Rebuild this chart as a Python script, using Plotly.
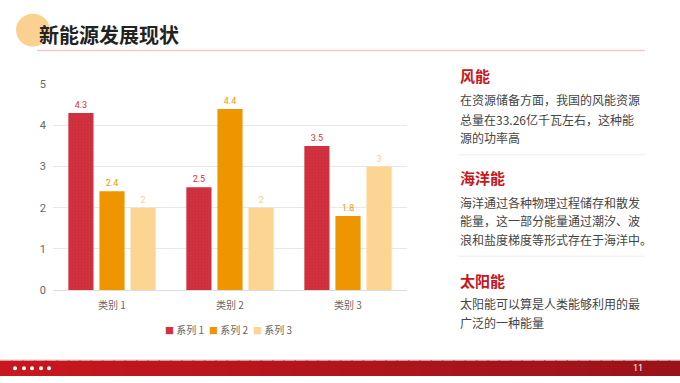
import plotly.graph_objects as go

W, H = 680, 383

categories = ["类别 1", "类别 2", "类别 3"]
series_names = ["系列 1", "系列 2", "系列 3"]
series1 = [4.3, 2.5, 3.5]
series2 = [2.4, 4.4, 1.8]
series3 = [2, 2, 3]
y_ticks = [0, 1, 2, 3, 4, 5]

colors = ["#d2323f", "#ee9500", "#fdd592"]
label_colors = ["#d2323f", "#ee9a00", "#f9cf80"]

title_text = "新能源发展现状"
sections = [
    ("风能", ["在资源储备方面，我国的风能资源", "总量在33.26亿千瓦左右，这种能", "源的功率高"]),
    ("海洋能", ["海洋通过各种物理过程储存和散发", "能量，这一部分能量通过潮汐、波", "浪和盐度梯度等形式存在于海洋中。"]),
    ("太阳能", ["太阳能可以算是人类能够利用的最", "广泛的一种能量"]),
]
page_number = "11"

FONT = "Noto Sans CJK SC"


def px(x):
    return x / W


def py(y):
    return 1 - y / H


fig = go.Figure()
for name, vals, c, lc in zip(series_names, [series1, series2, series3], colors, label_colors):
    marker = dict(color=c, line=dict(width=0))
    if name == series_names[0]:
        marker["pattern"] = dict(shape=".", size=3, solidity=0.25, fgcolor="#b92633", bgcolor=c)
    fig.add_trace(go.Bar(
        x=categories, y=vals, name=name, marker=marker,
        text=[f"{v:g}" for v in vals], textposition="outside",
        textfont=dict(color=lc, size=9, family="Roboto"),
        cliponaxis=False, hoverinfo="skip",
    ))

shapes = []
annotations = []

# title decoration
shapes.append(dict(type="circle", xref="paper", yref="paper",
                   x0=px(16), x1=px(50), y0=py(42), y1=py(8),
                   fillcolor="#fad190", line=dict(width=0), layer="below"))
shapes.append(dict(type="line", xref="paper", yref="paper",
                   x0=px(37), x1=px(645), y0=py(46), y1=py(46),
                   line=dict(color="#f3c9cb", width=1.5)))
annotations.append(dict(text=f"<b>{title_text}</b>", xref="paper", yref="paper",
                        x=px(37), y=py(29), xanchor="left", yanchor="middle",
                        showarrow=False, font=dict(family=FONT, size=20, color="#222222")))

# right panel text
heading_y = [72, 178, 284]
line_y = [[97, 117, 136], [203, 222, 242], [308, 328]]
sep_y = [154, 259]
for i, (head, lines) in enumerate(sections):
    annotations.append(dict(text=f"<b>{head}</b>", xref="paper", yref="paper",
                            x=px(458), y=py(heading_y[i]), xanchor="left", yanchor="middle",
                            showarrow=False, font=dict(family=FONT, size=15, color="#c8161d")))
    for ln, yy in zip(lines, line_y[i]):
        annotations.append(dict(text=ln, xref="paper", yref="paper",
                                x=px(458), y=py(yy), xanchor="left", yanchor="middle",
                                showarrow=False, font=dict(family=FONT, size=12, color="#444444")))
for yy in sep_y:
    shapes.append(dict(type="line", xref="paper", yref="paper",
                       x0=px(458), x1=px(645), y0=py(yy), y1=py(yy),
                       line=dict(color="#eeeeee", width=1)))

# legend (custom)
legend_x = [163, 207, 251]
for name, c, lx in zip(series_names, colors, legend_x):
    annotations.append(dict(
        text=f"<span style='color:{c};font-size:9px'>■</span> {name}",
        xref="paper", yref="paper", x=px(lx), y=py(335),
        xanchor="left", yanchor="middle", showarrow=False,
        font=dict(family=FONT, size=10, color="#666666")))

# footer gradient bar
n = 60
c0 = (0xc8, 0x17, 0x1f)
c1 = (0x9a, 0x13, 0x1a)
for k in range(n):
    t = k / (n - 1)
    col = "rgb(%d,%d,%d)" % tuple(round(a + (b - a) * t) for a, b in zip(c0, c1))
    shapes.append(dict(type="rect", xref="paper", yref="paper",
                       x0=k / n, x1=(k + 1) / n + 0.002, y0=0, y1=py(367),
                       fillcolor=col, line=dict(width=0), layer="above"))
shapes.append(dict(type="line", xref="paper", yref="paper",
                   x0=0, x1=1, y0=py(366), y1=py(366),
                   line=dict(color="#e6e6e6", width=1)))
for dx in [15, 24, 32, 41, 49]:
    shapes.append(dict(type="circle", xref="paper", yref="paper",
                       x0=px(dx - 2), x1=px(dx + 2), y0=py(377), y1=py(373),
                       fillcolor="white", line=dict(width=0), layer="above"))
annotations.append(dict(text=page_number, xref="paper", yref="paper",
                        x=px(638), y=py(375), xanchor="center", yanchor="middle",
                        showarrow=False, font=dict(family="Roboto", size=9, color="#ffffff")))

fig.update_layout(
    width=W, height=H,
    margin=dict(l=0, r=0, t=0, b=0),
    paper_bgcolor="white", plot_bgcolor="white",
    barmode="group", bargap=0.21, bargroupgap=0.19,
    showlegend=False,
    font=dict(family=FONT, color="#666666"),
    xaxis=dict(domain=[px(53), px(407)], showgrid=False, showline=False,
               ticks="", tickfont=dict(size=10, color="#666666"),
               ticklabelstandoff=8, fixedrange=True),
    yaxis=dict(domain=[py(294), py(81)], range=[0, 5], tickvals=y_ticks,
               showgrid=True, gridcolor="#e8e8e8", gridwidth=1,
               zeroline=True, zerolinecolor="#dddddd", zerolinewidth=1,
               ticks="", tickfont=dict(size=11, color="#666666", family="Roboto"),
               ticklabelstandoff=6, fixedrange=True),
    shapes=shapes, annotations=annotations,
)

fig.write_html(
    "out.html",
    config={"displayModeBar": False},
    post_script="document.body.style.margin='0';document.body.style.overflow='hidden';",
)
